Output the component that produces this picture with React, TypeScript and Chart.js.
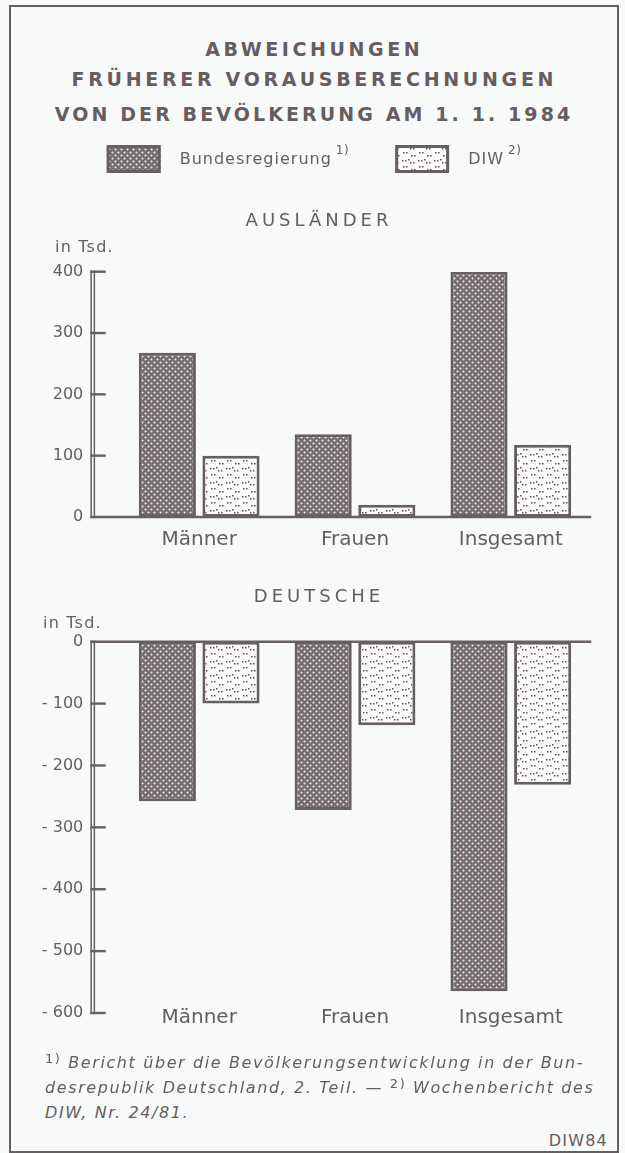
import React, { useEffect, useRef } from "react";
import { Chart, registerables } from "chart.js";

Chart.register(...registerables);

// ---------------- data ----------------
const categories = ["Männer", "Frauen", "Insgesamt"];
const seriesLabels = ["Bundesregierung", "DIW"];
const seriesNotes = ["1)", "2)"];
const auslaenderBundesregierung = [268, 135, 400];
const auslaenderDIW = [100, 20, 118];
const deutscheBundesregierung = [-258, -272, -565];
const deutscheDIW = [-100, -135, -231];
const auslaenderTicks = [0, 100, 200, 300, 400];
const deutscheTicks = [0, -100, -200, -300, -400, -500, -600];
const titleLines = ["ABWEICHUNGEN", "FRÜHERER VORAUSBERECHNUNGEN", "VON DER BEVÖLKERUNG AM 1. 1. 1984"];
const sectionTitles = ["AUSLÄNDER", "DEUTSCHE"];
const unitLabel = "in Tsd.";
const sourceLabel = "DIW84";

// ---------------- styles ----------------
const INK = "#675f61";
const TEXT = "#655d5f";
const BG = "#f8f9f9";
const FONT = '"DejaVu Sans", sans-serif';

function makeDensePattern(): CanvasPattern | string {
  const c = document.createElement("canvas");
  c.width = 6;
  c.height = 6;
  const g = c.getContext("2d");
  if (!g) return "#8a8284";
  g.fillStyle = "#736b6d";
  g.fillRect(0, 0, 6, 6);
  g.fillStyle = "#f0f0f0";
  [[1.5, 1.5], [4.5, 4.5]].forEach(([x, y]) => {
    g.beginPath();
    g.arc(x, y, 1.05, 0, Math.PI * 2);
    g.fill();
  });
  return g.createPattern(c, "repeat") || "#8a8284";
}

function makeSparsePattern(): CanvasPattern | string {
  const c = document.createElement("canvas");
  c.width = 16;
  c.height = 14;
  const g = c.getContext("2d");
  if (!g) return "#f4f4f4";
  g.fillStyle = "#fbfbfb";
  g.fillRect(0, 0, 16, 14);
  g.fillStyle = "#5a5254";
  [[2, 2], [5, 2], [10, 4], [13, 4], [3, 8], [6, 8], [11, 11], [14, 11], [8, 1]].forEach(([x, y]) => {
    g.fillRect(x, y, 1.5, 1.5);
  });
  return g.createPattern(c, "repeat") || "#f4f4f4";
}

const fmtTick = (v: number) => (v < 0 ? "- " + Math.abs(v) : String(v));

type DecoCfg = {
  key: string;
  title: string;
  titleY: number;
  unitX: number;
  unitDy: number;
  legend: boolean;
  ownXLabelsY: number | null;
};

function decoPlugin(cfg: DecoCfg, ticks: number[]) {
  return {
    id: "deco" + cfg.key,
    afterDraw(chart: any) {
      const { ctx, chartArea } = chart;
      const y = chart.scales.y;
      const xs = chart.scales.x;
      const ax = chartArea.left - 28.5;
      ctx.save();
      ctx.strokeStyle = INK;
      const yTop = y.getPixelForValue(Math.max(...ticks));
      const yBot = y.getPixelForValue(Math.min(...ticks));
      ctx.lineWidth = 1.5;
      [-1.6, 1.6].forEach((dx) => {
        ctx.beginPath();
        ctx.moveTo(ax + dx, yTop - 1.2);
        ctx.lineTo(ax + dx, yBot + 1.2);
        ctx.stroke();
      });
      ctx.lineWidth = 2.4;
      ticks.forEach((v) => {
        const py = y.getPixelForValue(v);
        ctx.beginPath();
        ctx.moveTo(ax - 2.4, py);
        ctx.lineTo(v === 0 ? chartArea.right + 2.5 : ax + 13, py);
        ctx.stroke();
      });

      ctx.fillStyle = TEXT;
      ctx.textBaseline = "middle";
      // category labels drawn here when the axis labels would overlap the plot
      if (cfg.ownXLabelsY !== null) {
        ctx.textAlign = "center";
        ctx.font = "20px " + FONT;
        (ctx as any).letterSpacing = "0px";
        chart.data.labels.forEach((lab: string, i: number) => {
          ctx.fillText(lab, xs.getPixelForValue(i), cfg.ownXLabelsY as number);
        });
      }
      // unit label
      ctx.textAlign = "left";
      ctx.font = "16px " + FONT;
      (ctx as any).letterSpacing = "1.2px";
      ctx.fillText(unitLabel, cfg.unitX, chartArea.top + cfg.unitDy);
      // section title
      ctx.textAlign = "center";
      ctx.font = "18px " + FONT;
      (ctx as any).letterSpacing = "4px";
      ctx.fillText(cfg.title, 319, cfg.titleY);

      if (cfg.legend) {
        const boxW = 54;
        const boxH = 28;
        const boxY = 15;
        const gapBT = 19;
        const itemGap = 46;
        const items = chart.data.datasets.map((ds: any, i: number) => {
          ctx.font = "16px " + FONT;
          (ctx as any).letterSpacing = "1px";
          const tw = ctx.measureText(ds.label).width;
          ctx.font = "12px " + FONT;
          (ctx as any).letterSpacing = "0.5px";
          const sw = ctx.measureText(seriesNotes[i]).width;
          return { ds, tw, sw, w: boxW + gapBT + tw + 4 + sw };
        });
        const total = items.reduce((a: number, it: any) => a + it.w, 0) + itemGap * (items.length - 1);
        let x = 314 - total / 2;
        items.forEach((it: any, i: number) => {
          ctx.fillStyle = it.ds.backgroundColor;
          ctx.fillRect(x, boxY, boxW, boxH);
          ctx.strokeStyle = INK;
          ctx.lineWidth = 3;
          ctx.strokeRect(x + 1.5, boxY + 1.5, boxW - 3, boxH - 3);
          ctx.fillStyle = TEXT;
          ctx.textAlign = "left";
          ctx.font = "16px " + FONT;
          (ctx as any).letterSpacing = "1px";
          const tx = x + boxW + gapBT;
          ctx.fillText(it.ds.label, tx, boxY + boxH / 2 + 1);
          ctx.font = "12px " + FONT;
          (ctx as any).letterSpacing = "0.5px";
          ctx.fillText(seriesNotes[i], tx + it.tw + 4, boxY + 6);
          x += it.w + itemGap;
        });
      }
      ctx.restore();
    },
  };
}

type ChartCfg = {
  key: string;
  bund: number[];
  diw: number[];
  ticks: number[];
  padTop: number;
  padBottom: number;
  xPad: number;
  showXAxis: boolean;
  deco: DecoCfg;
};

function buildConfig(c: ChartCfg, dense: any, sparse: any): any {
  const barOpts = {
    borderColor: INK,
    borderWidth: 3,
    borderSkipped: false,
    categoryPercentage: 0.8167,
    barPercentage: 0.8976,
  };
  return {
    type: "bar",
    data: {
      labels: categories,
      datasets: [
        { label: seriesLabels[0], data: c.bund, backgroundColor: dense, ...barOpts },
        { label: seriesLabels[1], data: c.diw, backgroundColor: sparse, ...barOpts },
      ],
    },
    options: {
      responsive: false,
      animation: false,
      devicePixelRatio: 1,
      layout: { padding: { top: c.padTop, bottom: c.padBottom, left: 0, right: 36.25 } },
      plugins: {
        legend: { display: false },
        title: { display: false },
        tooltip: { enabled: false },
      },
      scales: {
        x: {
          display: c.showXAxis,
          grid: { display: false, drawTicks: false },
          border: { display: false },
          ticks: { color: TEXT, font: { family: FONT, size: 20 }, padding: c.xPad },
        },
        y: {
          min: Math.min(...c.ticks),
          max: Math.max(...c.ticks),
          grid: { display: false, drawTicks: false },
          border: { display: false },
          afterFit: (s: any) => {
            s.width = 121.25;
          },
          ticks: {
            stepSize: Math.abs(c.ticks[1] - c.ticks[0]),
            color: TEXT,
            font: { family: FONT, size: 16 },
            padding: 38,
            callback: (v: any) => fmtTick(Number(v)),
          },
        },
      },
    },
    plugins: [decoPlugin(c.deco, c.ticks)],
  };
}

export default function App() {
  const ref1 = useRef<HTMLCanvasElement>(null);
  const ref2 = useRef<HTMLCanvasElement>(null);

  useEffect(() => {
    const dense = makeDensePattern();
    const sparse = makeSparsePattern();
    const c1 = new Chart(
      ref1.current as HTMLCanvasElement,
      buildConfig(
        {
          key: "a",
          bund: auslaenderBundesregierung,
          diw: auslaenderDIW,
          ticks: auslaenderTicks,
          padTop: 141.7,
          padBottom: 9,
          xPad: 11,
          showXAxis: true,
          deco: { key: "a", title: sectionTitles[0], titleY: 91, unitX: 55, unitDy: -23.5, legend: true, ownXLabelsY: null },
        },
        dense,
        sparse
      )
    );
    const c2 = new Chart(
      ref2.current as HTMLCanvasElement,
      buildConfig(
        {
          key: "b",
          bund: deutscheBundesregierung,
          diw: deutscheDIW,
          ticks: deutscheTicks,
          padTop: 66.7,
          padBottom: 48,
          xPad: 0,
          showXAxis: false,
          deco: { key: "b", title: sectionTitles[1], titleY: 22, unitX: 43, unitDy: -17.5, legend: false, ownXLabelsY: 443 },
        },
        dense,
        sparse
      )
    );
    return () => {
      c1.destroy();
      c2.destroy();
    };
  }, []);

  const titleTops = [36.8, 66.8, 102.3];
  const titleSpacing = ["3.6px", "3.7px", "3.1px"];
  const footStyle: React.CSSProperties = {
    position: "absolute",
    left: 45,
    height: 20,
    lineHeight: "20px",
    fontSize: 16,
    fontStyle: "italic",
    letterSpacing: "1.6px",
    whiteSpace: "pre",
  };
  const sup: React.CSSProperties = { fontStyle: "normal", fontSize: 13, position: "relative", top: -5 };

  return (
    <div
      style={{
        position: "absolute",
        left: 0,
        top: 0,
        width: 625,
        height: 1153,
        background: BG,
        fontFamily: FONT,
        color: TEXT,
        overflow: "hidden",
      }}
    >
      <div
        style={{
          position: "absolute",
          left: 9,
          top: 5,
          width: 606,
          height: 1144,
          border: `2px solid ${INK}`,
        }}
      />
      {titleLines.map((t, i) => (
        <div
          key={i}
          style={{
            position: "absolute",
            left: 0,
            top: titleTops[i],
            width: 625,
            paddingLeft: titleSpacing[i],
            boxSizing: "border-box",
            textAlign: "center",
            fontSize: 19,
            fontWeight: "bold",
            letterSpacing: titleSpacing[i],
            lineHeight: "24px",
            whiteSpace: "pre",
          }}
        >
          {t}
        </div>
      ))}
      <canvas ref={ref1} width={625} height={442} style={{ position: "absolute", left: 0, top: 130, width: 625, height: 442 }} />
      <canvas ref={ref2} width={625} height={486} style={{ position: "absolute", left: 0, top: 575, width: 625, height: 486 }} />
      <div style={{ ...footStyle, top: 1053 }}>
        <span style={sup}>1)</span> Bericht über die Bevölkerungsentwicklung in der Bun-
      </div>
      <div style={{ ...footStyle, top: 1078 }}>
        desrepublik Deutschland, 2. Teil. — <span style={sup}>2)</span> Wochenbericht des
      </div>
      <div style={{ ...footStyle, top: 1103 }}>DIW, Nr. 24/81.</div>
      <div
        style={{
          position: "absolute",
          right: 17,
          top: 1131,
          height: 20,
          lineHeight: "20px",
          fontSize: 16,
          letterSpacing: "1.2px",
        }}
      >
        {sourceLabel}
      </div>
    </div>
  );
}
